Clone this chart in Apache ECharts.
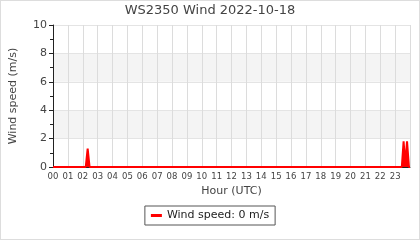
<!DOCTYPE html>
<html><head><meta charset="utf-8">
<script src="https://cdn.jsdelivr.net/npm/echarts@6/dist/echarts.min.js"></script>
<style>html,body{margin:0;padding:0;background:#fff}#w{position:relative;width:420px;height:240px}#c{width:420px;height:240px}#b{position:absolute;left:0;top:0;width:420px;height:240px;box-sizing:border-box;border:1px solid #ddd;pointer-events:none}</style>
</head><body><div id="w"><div id="c"></div><div id="b"></div></div>
<script>
var titleText = 'WS2350 Wind 2022-10-18';
var seriesName = 'Wind speed: 0 m/s';
var hours = [0, 2.2, 2.33, 2.46, 23.45, 23.57, 23.68, 23.8, 23.93, 24];
var speeds = [0, 0, 1.3, 0, 0, 1.8, 0.2, 1.8, 0, 0];
var hourLabels = ['00','01','02','03','04','05','06','07','08','09','10','11','12','13','14','15','16','17','18','19','20','21','22','23'];

var data = hours.map(function(h, i){ return [h, speeds[i]]; });
var chart = echarts.init(document.getElementById('c'), null, {renderer:'canvas'});
var ff = 'DejaVu Sans';
chart.setOption({
  animation: false,
  textStyle: {fontFamily: ff},
  title: {text: titleText, left: 'center', top: 0, padding: [4, 5, 3, 5], textStyle: {fontFamily: ff, fontSize: 13, fontWeight: 'normal', color: '#444'}},
  grid: {left: 50, right: 10, top: 25, bottom: 73},
  xAxis: {
    type: 'value', min: 0, max: 24, interval: 1,
    name: 'Hour (UTC)', nameLocation: 'middle', nameGap: 19,
    nameTextStyle: {fontFamily: ff, fontSize: 11, color: '#444'},
    axisLine: {lineStyle: {color: '#222'}},
    axisTick: {show: false},
    axisLabel: {fontFamily: ff, fontSize: 8.5, color: '#444', margin: 5,
      formatter: function(v){ return v < 24 ? hourLabels[v] : ''; }},
    splitLine: {show: true, lineStyle: {color: '#dcdcdc', width: 1}}
  },
  yAxis: {
    type: 'value', min: 0, max: 10, interval: 2,
    name: 'Wind speed (m/s)', nameLocation: 'middle', nameGap: 34,
    nameTextStyle: {fontFamily: ff, fontSize: 11, color: '#444'},
    axisLine: {show: true, lineStyle: {color: '#222'}},
    axisTick: {show: true, length: 4, lineStyle: {color: '#222'}},
    minorTick: {show: true, splitNumber: 2, length: 3, lineStyle: {color: '#222'}},
    axisLabel: {fontFamily: ff, fontSize: 11, color: '#444', margin: 6},
    splitLine: {show: true, lineStyle: {color: '#e4e4e4'}},
    splitArea: {show: true, areaStyle: {color: ['#ffffff', '#f4f4f4']}}
  },
  legend: {
    bottom: 15, left: 'center',
    borderColor: '#555', borderWidth: 1, borderRadius: 0,
    padding: [4, 6, 4, 6],
    itemWidth: 11, itemHeight: 3, itemGap: 6,
    icon: 'rect',
    textStyle: {fontFamily: ff, fontSize: 11, color: '#222'},
    data: [seriesName]
  },
  series: [{
    name: seriesName, type: 'line', data: data,
    showSymbol: false, symbol: 'none',
    lineStyle: {color: '#ff0000', width: 2},
    itemStyle: {color: '#ff0000'},
    areaStyle: {color: '#ff0000', opacity: 1}
  }]
});
</script></body></html>
